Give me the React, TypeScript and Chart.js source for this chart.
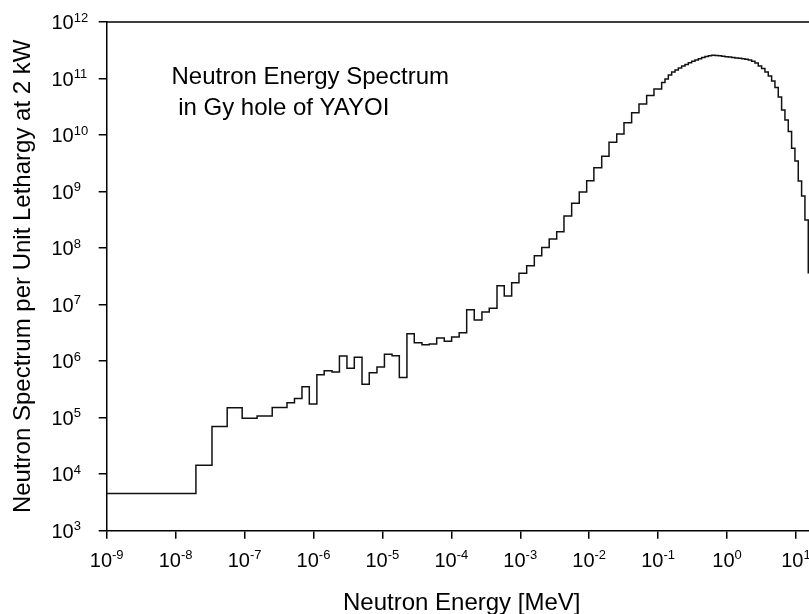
import React, { useEffect, useRef } from "react";
import { Chart, registerables } from "chart.js";

Chart.register(...registerables);

// Lower bin edges [MeV] and flux per unit lethargy, thermal..epithermal region
const epiEdges = [
  1e-9, 1.97e-8, 3.37e-8, 5.6e-8, 9.24e-8, 1.52e-7, 2.52e-7, 4.13e-7, 5.3e-7, 6.81e-7,
  8.7e-7, 1.12e-6, 1.43e-6, 1.86e-6, 2.38e-6, 3.06e-6, 3.91e-6, 5.06e-6, 6.45e-6, 8.34e-6,
  1.07e-5, 1.38e-5, 1.76e-5, 2.27e-5, 2.9e-5, 3.75e-5, 4.79e-5, 6.13e-5, 7.9e-5, 1.01e-4,
  1.3e-4, 1.67e-4, 2.15e-4, 2.78e-4, 3.55e-4, 4.6e-4, 5.86e-4, 7.51e-4, 9.58e-4, 1.24e-3,
  1.6e-3, 2.05e-3, 2.63e-3, 3.38e-3, 4.31e-3, 5.57e-3, 7.18e-3, 9.2e-3, 1.17e-2, 1.52e-2,
  1.94e-2, 2.51e-2, 3.2e-2, 4.13e-2, 5.28e-2, 6.82e-2, 8.71e-2,
];
const epiFlux = [
  4.55e3, 1.44e4, 6.97e4, 1.5e5, 9.73e4, 1.07e5, 1.52e5, 1.84e5, 2.18e5, 3.53e5,
  1.74e5, 5.75e5, 6.77e5, 6.42e5, 1.23e6, 7.46e5, 1.17e6, 3.91e5, 6.21e5, 7.87e5,
  1.33e6, 1.24e6, 5.13e5, 3.04e6, 2.12e6, 1.95e6, 2.01e6, 2.56e6, 2.24e6, 2.67e6,
  3.18e6, 8.13e6, 5.34e6, 7.4e6, 8.6e6, 2.16e7, 1.42e7, 2.44e7, 3.58e7, 4.88e7,
  7.33e7, 1.02e8, 1.45e8, 1.95e8, 3.7e8, 6.2e8, 9.82e8, 1.56e9, 2.64e9, 4.21e9,
  7.44e9, 1.04e10, 1.65e10, 2.48e10, 3.54e10, 5.01e10, 6.53e10,
];
// Fast region
const fastEdges = [
  0.1126, 0.1259, 0.1407, 0.1573, 0.1758, 0.1965, 0.2196, 0.2455, 0.2744, 0.3067,
  0.3428, 0.3831, 0.4282, 0.4786, 0.535, 0.5979, 0.6683, 0.747, 0.8349, 0.9335,
  1.043, 1.166, 1.303, 1.457, 1.628, 1.82, 2.034, 2.274, 2.542, 2.841,
  3.176, 3.549, 3.967, 4.435, 4.957, 5.54, 6.193, 6.922, 7.737, 8.648,
  9.665, 10.8, 12.08, 13.5, 15.09,
];
const fastFlux = [
  8.5e10, 9.8e10, 1.15e11, 1.3e11, 1.42e11, 1.54e11, 1.67e11, 1.77e11, 1.9e11, 2.02e11,
  2.13e11, 2.23e11, 2.35e11, 2.45e11, 2.52e11, 2.58e11, 2.55e11, 2.52e11, 2.48e11, 2.44e11,
  2.4e11, 2.35e11, 2.31e11, 2.28e11, 2.24e11, 2.19e11, 2.13e11, 2.02e11, 1.88e11, 1.67e11,
  1.51e11, 1.3e11, 1.11e11, 9.04e10, 6.94e10, 4.71e10, 2.77e10, 1.85e10, 1.15e10, 5.83e9,
  3.47e9, 1.54e9, 8.35e8, 3.14e8, 3.67e7,
];
const lastUpperEdge = 20;

const xTickExp = [-9, -8, -7, -6, -5, -4, -3, -2, -1, 0, 1];
const yTickExp = [3, 4, 5, 6, 7, 8, 9, 10, 11, 12];
const xTitle = "Neutron Energy [MeV]";
const yTitle = "Neutron Spectrum per Unit Lethargy at 2 kW";
const noteLines = ["Neutron Energy Spectrum", " in Gy hole of YAYOI"];

const FONT = '"Liberation Sans", Arial, Helvetica, sans-serif';

export default function App() {
  const ref = useRef<HTMLCanvasElement>(null);

  useEffect(() => {
    if (!ref.current) return;
    const edges = [...epiEdges, ...fastEdges];
    const flux = [...epiFlux, ...fastFlux];
    const pts = edges.map((e, i) => ({ x: e, y: flux[i] }));
    pts.push({ x: lastUpperEdge, y: flux[flux.length - 1] });

    const decor = {
      id: "decor",
      afterDraw(chart: any) {
        const { ctx, chartArea: a, scales } = chart;
        ctx.save();
        ctx.strokeStyle = "#000";
        ctx.lineWidth = 1.5;
        ctx.beginPath();
        ctx.moveTo(a.left, a.top);
        ctx.lineTo(a.right, a.top);
        ctx.lineTo(a.right, a.bottom);
        ctx.stroke();

        ctx.fillStyle = "#000";
        ctx.textBaseline = "alphabetic";
        ctx.textAlign = "left";
        const big = `20px ${FONT}`;
        const small = `13px ${FONT}`;

        for (const e of xTickExp) {
          const px = scales.x.getPixelForValue(Math.pow(10, e));
          const s = e < 0 ? "-" + Math.abs(e) : String(e);
          ctx.font = big;
          const w1 = ctx.measureText("10").width;
          ctx.font = small;
          const w2 = ctx.measureText(s).width;
          const x0 = px - (w1 + w2) / 2;
          ctx.font = big;
          ctx.fillText("10", x0, a.bottom + 36);
          ctx.font = small;
          ctx.fillText(s, x0 + w1, a.bottom + 28);
        }

        for (const e of yTickExp) {
          const py = scales.y.getPixelForValue(Math.pow(10, e));
          const s = String(e);
          ctx.font = big;
          const w1 = ctx.measureText("10").width;
          const x0 = 51.5;
          ctx.fillText("10", x0, py + 7.2);
          ctx.font = small;
          ctx.fillText(s, x0 + w1, py - 0.5);
        }

        ctx.font = `24px ${FONT}`;
        ctx.textAlign = "center";
        ctx.fillText(xTitle, (a.left + a.right) / 2, 610);

        ctx.save();
        ctx.translate(29.5, (a.top + a.bottom) / 2);
        ctx.rotate(-Math.PI / 2);
        ctx.fillText(yTitle, 0, 0);
        ctx.restore();

        ctx.textAlign = "left";
        ctx.font = `24px ${FONT}`;
        ctx.fillText(noteLines[0], 171.5, 83.5);
        ctx.fillText(noteLines[1], 171.5, 114.5);
        ctx.restore();
      },
    };

    const axisCommon = {
      type: "logarithmic" as const,
      ticks: { display: false },
      grid: {
        drawOnChartArea: false,
        drawTicks: true,
        tickLength: 8,
        color: "#000",
        lineWidth: 1.5,
      },
      border: { display: true, color: "#000", width: 1.5 },
    };

    const chart = new Chart(ref.current, {
      type: "line",
      data: {
        datasets: [
          {
            data: pts,
            stepped: "before",
            borderColor: "#111",
            borderWidth: 1.5,
            pointRadius: 0,
            fill: false,
          },
        ],
      },
      options: {
        responsive: false,
        animation: false,
        devicePixelRatio: 1,
        layout: { padding: { left: 98.7, right: 13.3, top: 22, bottom: 75.3 } },
        plugins: { legend: { display: false }, tooltip: { enabled: false } },
        scales: {
          x: {
            ...axisCommon,
            min: 1e-9,
            max: lastUpperEdge,
            afterBuildTicks: (s: any) => {
              s.ticks = xTickExp.map((e) => ({ value: Math.pow(10, e) }));
            },
          },
          y: {
            ...axisCommon,
            min: 1e3,
            max: 1e12,
            afterBuildTicks: (s: any) => {
              s.ticks = yTickExp.map((e) => ({ value: Math.pow(10, e) }));
            },
          },
        },
      } as any,
      plugins: [decor],
    });
    return () => chart.destroy();
  }, []);

  return (
    <div
      style={{
        position: "fixed",
        left: 0,
        top: 0,
        width: 809,
        height: 614,
        overflow: "hidden",
        background: "#fff",
      }}
    >
      <canvas
        ref={ref}
        width={830}
        height={614}
        style={{ display: "block", width: 830, height: 614 }}
      />
    </div>
  );
}
